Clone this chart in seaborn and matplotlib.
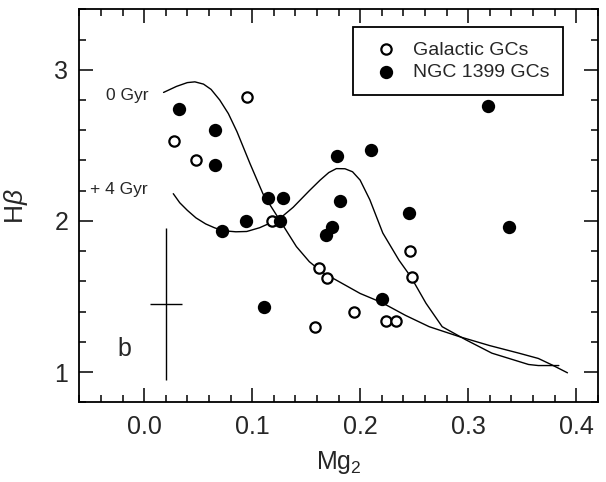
import numpy as np
import pandas as pd
import matplotlib
matplotlib.use("Agg")
import matplotlib.pyplot as plt
from matplotlib.ticker import MultipleLocator
import seaborn as sns

# ---- dados ----
gal_mg2 = [0.095, 0.028, 0.048, 0.118, 0.162, 0.169, 0.158, 0.194, 0.224, 0.233, 0.246, 0.248]
gal_hb = [2.82, 2.53, 2.40, 2.00, 1.69, 1.62, 1.30, 1.40, 1.34, 1.34, 1.80, 1.63]

ngc_mg2 = [0.032, 0.066, 0.066, 0.072, 0.094, 0.115, 0.129, 0.126, 0.179, 0.210,
           0.181, 0.174, 0.168, 0.245, 0.220, 0.111, 0.338, 0.318]
ngc_hb = [2.74, 2.60, 2.37, 1.93, 2.00, 2.15, 2.15, 2.00, 2.43, 2.47,
          2.13, 1.96, 1.91, 2.05, 1.48, 1.43, 1.96, 2.76]

gyr0_mg2 = [0.018, 0.030, 0.040, 0.047, 0.055, 0.062, 0.070, 0.078, 0.086, 0.098,
            0.110, 0.126, 0.141, 0.153, 0.165, 0.180, 0.200, 0.220, 0.242, 0.264,
            0.292, 0.320, 0.347, 0.365, 0.378, 0.392]
gyr0_hb = [2.85, 2.89, 2.915, 2.92, 2.905, 2.87, 2.80, 2.71, 2.59, 2.38,
           2.18, 2.00, 1.83, 1.73, 1.66, 1.60, 1.52, 1.46, 1.375, 1.30,
           1.234, 1.175, 1.125, 1.09, 1.046, 0.995]

gyr4_mg2 = [0.027, 0.033, 0.040, 0.048, 0.057, 0.065, 0.073, 0.085, 0.095, 0.107,
            0.118, 0.128, 0.138, 0.153, 0.163, 0.171, 0.178, 0.186, 0.193, 0.200,
            0.209, 0.221, 0.236, 0.247, 0.261, 0.276, 0.298, 0.322, 0.356, 0.365, 0.384]
gyr4_hb = [2.18, 2.12, 2.07, 2.02, 1.98, 1.955, 1.935, 1.928, 1.93, 1.955,
           1.99, 2.03, 2.09, 2.20, 2.27, 2.32, 2.346, 2.345, 2.325, 2.27,
           2.14, 1.92, 1.74, 1.63, 1.455, 1.30, 1.213, 1.125, 1.05, 1.043, 1.043]

err_x, err_y = 0.02, 1.45
err_dx, err_dy = 0.015, 0.5

df_gal = pd.DataFrame({"Mg2": gal_mg2, "Hb": gal_hb})
df_ngc = pd.DataFrame({"Mg2": ngc_mg2, "Hb": ngc_hb})
df_0 = pd.DataFrame({"Mg2": gyr0_mg2, "Hb": gyr0_hb})
df_4 = pd.DataFrame({"Mg2": gyr4_mg2, "Hb": gyr4_hb})

sns.set_theme(style="ticks")
plt.rcParams["font.family"] = ["Liberation Sans", "DejaVu Sans"]
plt.rcParams["mathtext.fontset"] = "custom"
plt.rcParams["mathtext.rm"] = "Liberation Sans"
plt.rcParams["mathtext.it"] = "Liberation Sans:italic"

fig = plt.figure(figsize=(6.06, 4.82), dpi=100)
ax = fig.add_axes([0.1309, 0.1654, 0.8554, 0.8153])

# curvas de idade
sns.lineplot(data=df_0, x="Mg2", y="Hb", sort=False, estimator=None, color="black", lw=1.0, ax=ax)
sns.lineplot(data=df_4, x="Mg2", y="Hb", sort=False, estimator=None, color="black", lw=1.0, ax=ax)

# pontos
sns.scatterplot(data=df_gal, x="Mg2", y="Hb", marker="o", s=55, facecolor="white",
                edgecolor="black", linewidth=1.6, label="Galactic GCs", ax=ax, zorder=3)
sns.scatterplot(data=df_ngc, x="Mg2", y="Hb", marker="o", s=92, color="black",
                linewidth=0, label="NGC 1399 GCs", ax=ax, zorder=3)

# barra de erro típica
ax.errorbar(err_x, err_y, xerr=err_dx, yerr=err_dy, fmt="none", ecolor="black", elinewidth=1.0, capsize=0)

ax.text(0.0036, 2.83, "0 Gyr", ha="right", va="center", fontsize=12.5)
ax.text(0.0036, 2.207, "+ 4 Gyr", ha="right", va="center", fontsize=12.5)
ax.text(-0.018, 1.153, "b", ha="center", va="center", fontsize=18)

ax.set_xlim(-0.06, 0.42)
ax.set_ylim(0.8, 3.4)
ax.xaxis.set_major_locator(MultipleLocator(0.1))
ax.xaxis.set_minor_locator(MultipleLocator(0.02))
ax.yaxis.set_major_locator(MultipleLocator(1))
ax.yaxis.set_minor_locator(MultipleLocator(0.2))
ax.set_xticks([0.0, 0.1, 0.2, 0.3, 0.4])
ax.set_xticklabels(["0.0", "0.1", "0.2", "0.3", "0.4"])
ax.tick_params(which="both", direction="in", top=True, right=True, color="black", width=1.1)
ax.tick_params(which="major", length=10, labelsize=18)
ax.tick_params(axis="x", which="major", pad=9)
ax.tick_params(axis="y", which="major", pad=8)
ax.tick_params(which="minor", length=5)
for sp in ax.spines.values():
    sp.set_linewidth(1.3)
    sp.set_color("black")

ax.set_xlabel("Mg$_2$", fontsize=18)
ax.set_ylabel("H$\\it{\\beta}$", fontsize=19)
ax.xaxis.set_label_coords(0.5, -0.12)
ax.yaxis.set_label_coords(-0.095, 0.5)

leg = ax.legend(loc="upper right", bbox_to_anchor=(0.9336, 0.954), borderaxespad=0,
                fancybox=False, edgecolor="black", framealpha=1, fontsize=14,
                handlelength=2.0, handletextpad=0.4, borderpad=0.7, labelspacing=0.25)
leg.get_frame().set_linewidth(1.3)

fig.savefig("out.png", dpi=100)
